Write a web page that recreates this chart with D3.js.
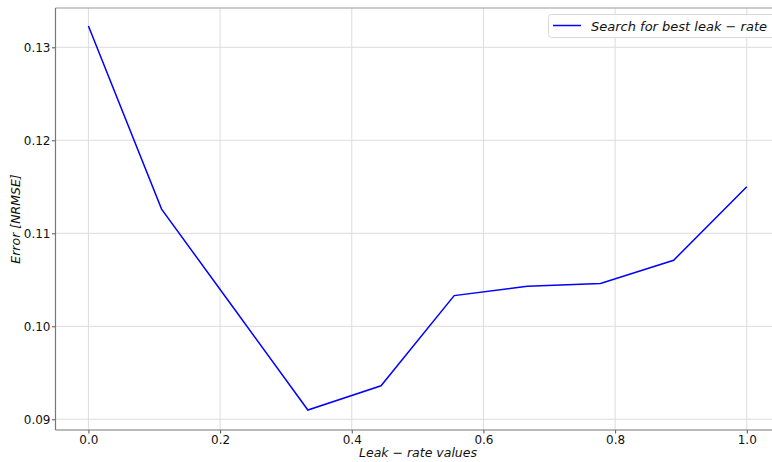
<!DOCTYPE html>
<html><head><meta charset="utf-8">
<script src="https://cdn.jsdelivr.net/npm/d3@7"></script>
<style>
body{margin:0;background:#fff;}
text{font-family:"DejaVu Sans",sans-serif;}
</style></head>
<body><svg id="c" width="772" height="462"></svg>
<script>
const leakRates = [0, 1/9, 2/9, 3/9, 4/9, 5/9, 6/9, 7/9, 8/9, 1];
const errors = [0.1323, 0.1126, 0.1018, 0.0910, 0.0936, 0.1033, 0.1043, 0.1046, 0.1071, 0.1150];
const xTicks = [0.0, 0.2, 0.4, 0.6, 0.8, 1.0];
const yTicks = [0.09, 0.10, 0.11, 0.12, 0.13];
const seriesName = "Search for best leak \u2212 rate";

const svg = d3.select("#c");
const L = 55.5, R = 779.7, T = 8, B = 430;
const x = d3.scaleLinear().domain([-0.05, 1.05]).range([L, R]);
const y = d3.scaleLinear().domain([0.09, 0.13]).range([419.3, 47.3]);

// grid
const g = svg.append("g");
g.selectAll(".gx").data(xTicks).enter().append("line")
  .attr("x1", d => x(d)).attr("x2", d => x(d)).attr("y1", T).attr("y2", B)
  .attr("stroke", "#dcdcdc").attr("stroke-width", 1);
g.selectAll(".gy").data(yTicks).enter().append("line")
  .attr("x1", L).attr("x2", R).attr("y1", d => y(d)).attr("y2", d => y(d))
  .attr("stroke", "#dcdcdc").attr("stroke-width", 1);

// axes
const xAxis = d3.axisBottom(x).tickValues(xTicks).tickFormat(d3.format(".1f")).tickSize(3.5).tickPadding(1.5);
const yAxis = d3.axisLeft(y).tickValues(yTicks).tickFormat(d3.format(".2f")).tickSize(3.5).tickPadding(1.5);
const gx = svg.append("g").attr("transform", `translate(0,${B})`).call(xAxis);
const gy = svg.append("g").attr("transform", `translate(${L},0)`).call(yAxis);
[gx, gy].forEach(a => {
  a.select(".domain").remove();
  a.selectAll(".tick line").attr("stroke", "#555");
  a.selectAll(".tick text").attr("font-size", 12).attr("fill", "#111").attr("font-family", "DejaVu Sans");
});

// spines
svg.append("line").attr("x1", L).attr("x2", L).attr("y1", T).attr("y2", B).attr("stroke", "#777").attr("stroke-width", 1.2);
svg.append("line").attr("x1", L).attr("x2", R).attr("y1", B).attr("y2", B).attr("stroke", "#777").attr("stroke-width", 1.2);
svg.append("line").attr("x1", L).attr("x2", R).attr("y1", T).attr("y2", T).attr("stroke", "#999").attr("stroke-width", 1.2);

// line
const line = d3.line().x((d, i) => x(leakRates[i])).y(d => y(d));
svg.append("path").datum(errors).attr("d", line)
  .attr("fill", "none").attr("stroke", "#0000ff").attr("stroke-width", 1.5);

// axis labels
svg.append("text").attr("x", 418).attr("y", 457).attr("text-anchor", "middle")
  .attr("font-size", 12.5).attr("font-style", "italic").attr("fill", "#111").text("Leak \u2212 rate values");
svg.append("text").attr("transform", "translate(20,219) rotate(-90)").attr("text-anchor", "middle")
  .attr("font-size", 12.5).attr("font-style", "italic").attr("fill", "#111").text("Error [NRMSE]");

// legend
const lg = svg.append("g");
lg.append("rect").attr("x", 548.5).attr("y", 14.5).attr("width", 232).attr("height", 23).attr("rx", 3)
  .attr("fill", "#fff").attr("fill-opacity", 0.85).attr("stroke", "#d8d8d8");
lg.append("line").attr("x1", 553).attr("x2", 581).attr("y1", 25.5).attr("y2", 25.5)
  .attr("stroke", "#0000ff").attr("stroke-width", 1.5);
lg.append("text").attr("x", 591).attr("y", 30.5).attr("font-size", 13).attr("font-style", "italic")
  .attr("fill", "#111").text(seriesName);
</script></body></html>
